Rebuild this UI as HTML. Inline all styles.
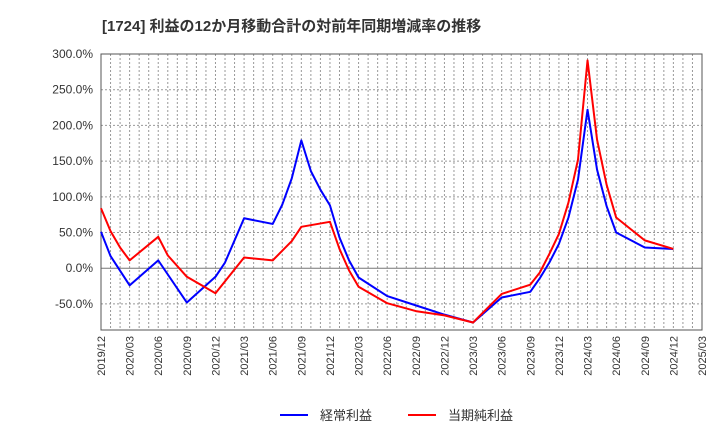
<!DOCTYPE html>
<html><head><meta charset="utf-8"><style>
body{margin:0;background:#fff;font-family:"Liberation Sans","Noto Sans CJK JP",sans-serif;}
</style></head><body>
<svg id="c" width="720" height="440" xmlns="http://www.w3.org/2000/svg">
<text x="102" y="31" font-size="15" font-weight="bold" fill="#333">[1724]  利益の12か月移動合計の対前年同期増減率の推移</text>
<g id="grid"></g><g id="axes"></g><g id="series"></g>
<g>
<line x1="280" y1="415" x2="308" y2="415" stroke="#0000ff" stroke-width="2"/>
<text x="320" y="420" font-size="13" fill="#333">経常利益</text>
<line x1="408" y1="415" x2="436" y2="415" stroke="#ff0000" stroke-width="2"/>
<text x="448" y="420" font-size="13" fill="#333">当期純利益</text>
</g>
</svg>
<script>
const yTicks=[300,250,200,150,100,50,0,-50];
const xLabels=["2019/12","2020/03","2020/06","2020/09","2020/12","2021/03","2021/06","2021/09","2021/12","2022/03","2022/06","2022/09","2022/12","2023/03","2023/06","2023/09","2023/12","2024/03","2024/06","2024/09","2024/12","2025/03"];
const blueMonths=[0,1,3,6,9,12,13,15,18,19,20,21,22,23,24,25,26,27,30,33,36,39,42,45,46,47,48,49,50,51,52,53,54,57,60];
const blueValues=[51,17,-24,11,-48,-12,8,70,62,89,126,179,136,110,88,43,11,-13,-39,-52,-65,-76,-41,-33,-14,8,34,71,124,222,138,87,50,29,27];
const redMonths=[0,1,2,3,6,7,9,12,15,18,20,21,24,25,26,27,30,33,36,39,42,45,46,47,48,49,50,51,52,53,54,57,60];
const redValues=[84,52,29,11,44,18,-12,-35,15,11,38,58,65,27,-3,-26,-49,-60,-66,-76,-36,-23,-6,20,48,92,152,291,180,117,71,39,27];
const L=101,R=702,T=54,B=330;
const yMin=-86.5,yMax=300;
const X=m=>L+m*(R-L)/63;
const Y=v=>B-(v-yMin)*(B-T)/(yMax-yMin);
const NS="http://www.w3.org/2000/svg";
function mk(tag,attrs,parent){const e=document.createElementNS(NS,tag);for(const k in attrs)e.setAttribute(k,attrs[k]);parent.appendChild(e);return e;}
const grid=document.getElementById('grid'),axes=document.getElementById('axes'),series=document.getElementById('series');
for(let m=1;m<63;m++){const g=mk('line',{x1:X(m),x2:X(m),y1:T,y2:B,stroke:'#999','stroke-dasharray':'2,2','stroke-width':1},grid);

}
yTicks.forEach(v=>{const y=Y(v);
const g=mk('line',{x1:L,x2:R,y1:y,y2:y,stroke:v===0?'#777':'#999','stroke-dasharray':v===0?'':'2,2','stroke-width':1},grid);


const t=mk('text',{x:93,y:y+4,'text-anchor':'end','font-size':12,fill:'#333'},axes);t.textContent=v.toFixed(1)+'%';

});
xLabels.forEach((s,i)=>{const x=X(i*3);
const t=mk('text',{x:0,y:0,transform:`translate(${x+4},${B+6}) rotate(-90)`,'text-anchor':'end','font-size':11,fill:'#333'},axes);t.textContent=s;

});
const fr=mk('rect',{x:L,y:T,width:R-L,height:B-T,fill:'none',stroke:'#555','stroke-width':1},axes);


function line(ms,vs,col,name){const p=mk('polyline',{points:ms.map((m,i)=>X(m)+','+Y(vs[i])).join(' '),fill:'none',stroke:col,'stroke-width':2,'stroke-linejoin':'round'},series);

}
line(blueMonths,blueValues,'#0000ff','ordinary-profit-line');
line(redMonths,redValues,'#ff0000','net-profit-line');
</script>
</body></html>
